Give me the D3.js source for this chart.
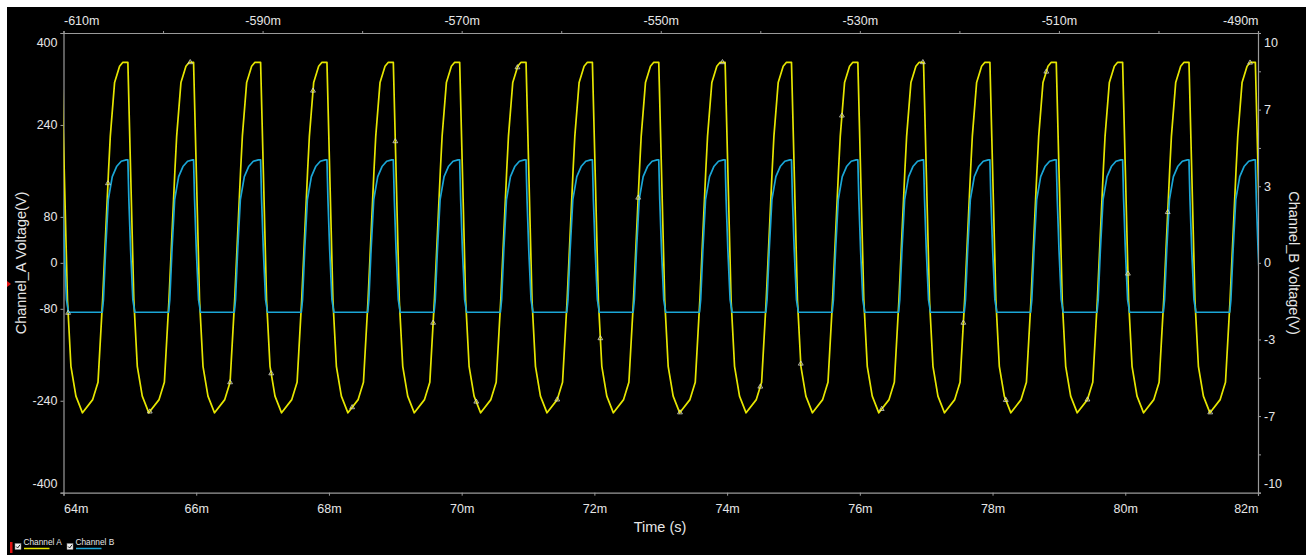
<!DOCTYPE html>
<html>
<head>
<meta charset="utf-8">
<script src="https://cdn.jsdelivr.net/npm/d3@7"></script>
<style>
  html, body { margin: 0; padding: 0; background: #ffffff; }
  svg { display: block; }
  text { font-family: "Liberation Sans", Arial, sans-serif; }
</style>
</head>
<body>
<script>
// ---------------- DATA ----------------
// time axis (ms)
const timeDomain = [64, 82];
const bottomTicks = [64, 66, 68, 70, 72, 74, 76, 78, 80, 82];
const bottomLabels = ["64m", "66m", "68m", "70m", "72m", "74m", "76m", "78m", "80m", "82m"];
const topDomain = [-610, -490];
const topTicks = [-610, -600, -590, -580, -570, -560, -550, -540, -530, -520, -510, -500, -490];
const topLabels = ["-610m", "", "-590m", "", "-570m", "", "-550m", "", "-530m", "", "-510m", "", "-490m"];
// left axis (Channel_A)
const leftDomain = [-400, 400];
const leftTicks = [400, 240, 80, 0, -80, -240, -400];
const leftLabels = ["400", "240", "80", "0", "-80", "-240", "-400"];
// right axis (Channel_B)
const rightDomain = [-10, 10];
const rightTicks = [10, 6.667, 3.333, 0, -3.333, -6.667, -10];
const rightLabels = ["10", "7", "3", "0", "-3", "-7", "-10"];
const rightMinorTicks = [8.333, 5, -5, -8.333];

// times (ms) at which each cycle's peak ends and the fall begins
const dropTimes = [63.97, 64.97, 65.96, 66.97, 67.97, 68.97, 69.97, 70.97, 71.97, 72.97,
                   73.97, 74.97, 75.97, 76.96, 77.96, 78.96, 79.96, 80.96, 81.96];
// Channel A: one cycle (offset ms after drop start, volts)
const cycleA_dt = [0.000, 0.041, 0.090, 0.142, 0.217, 0.316, 0.470, 0.550, 0.619, 0.709, 0.735, 0.800, 0.875, 0.925];
const cycleA_v  = [349,   161,   -65,   -180,  -232,  -261,  -238,  -208,  -65,   161,   220,   314,   342,   349];
// Channel B: one cycle (offset ms after drop start, volts)
const cycleB_dt = [0.000, 0.015, 0.041, 0.075, 0.105, 0.614, 0.632, 0.665, 0.705, 0.765, 0.830, 0.900, 0.975];
const cycleB_v  = [4.48,  2.75,  0.57,  -1.60, -2.15, -2.15, -1.60, 0.57,  2.75,  3.75,  4.19,  4.42,  4.48];
// sample markers drawn on Channel A (ms)
const markerTimes = [64.07, 64.67, 65.30, 65.91, 66.51, 67.13, 67.76, 68.35, 69.00, 69.57, 70.22,
                     70.84, 71.44, 72.09, 72.66, 73.29, 73.93, 74.50, 75.11, 75.73, 76.33, 76.95,
                     77.56, 78.20, 78.81, 79.43, 80.04, 80.64, 81.28, 81.88];
const seriesNames = ["Channel A", "Channel B"];
const seriesColors = ["#e6e600", "#1aa6d6"];

// ---------------- LAYOUT ----------------
const W = 1306, H = 555;
const plot = { left: 63.5, right: 1258, top: 33, bottom: 492.7 };
const axisColor = "#9a9a9a";
const textColor = "#e6e6e6";

const svg = d3.select("body").append("svg").attr("width", W).attr("height", H);
svg.append("rect").attr("x", 0).attr("y", 0).attr("width", W).attr("height", H).attr("fill", "#ffffff");
svg.append("rect").attr("x", 7).attr("y", 7).attr("width", W - 7).attr("height", H - 7).attr("fill", "#000000");

const x = d3.scaleLinear().domain(timeDomain).range([plot.left, plot.right]);
const xTop = d3.scaleLinear().domain(topDomain).range([plot.left, plot.right]);
const yA = d3.scaleLinear().domain(leftDomain).range([plot.bottom, plot.top]);
const yB = d3.scaleLinear().domain(rightDomain).range([plot.bottom, plot.top]);

// build series from cycle tables
function buildSeries(dts, vs) {
  const pts = [];
  dropTimes.forEach(d => dts.forEach((dt, i) => pts.push([d + dt, vs[i]])));
  return pts;
}
const seriesA = buildSeries(cycleA_dt, cycleA_v);
const seriesB = buildSeries(cycleB_dt, cycleB_v);

// clip
svg.append("clipPath").attr("id", "clip").append("rect")
  .attr("x", plot.left).attr("y", plot.top - 2)
  .attr("width", plot.right - plot.left).attr("height", plot.bottom - plot.top + 4);

// axes
function styleAxis(g) {
  g.selectAll("path").attr("stroke", axisColor).attr("stroke-width", 1.2);
  g.selectAll("line").attr("stroke", axisColor);
  g.selectAll("text").attr("fill", textColor).style("font-size", "12.5px")
    .style("font-family", "'Liberation Sans', Arial, sans-serif");
}

const gBottom = svg.append("g").attr("transform", `translate(0,${plot.bottom})`)
  .call(d3.axisBottom(x).tickValues(bottomTicks)
    .tickFormat((d, i) => bottomLabels[i]).tickSizeOuter(0).tickSize(3).tickPadding(8));
styleAxis(gBottom);
gBottom.selectAll(".tick text").attr("text-anchor", (d, i) => i === 0 ? "start" : (i === bottomTicks.length - 1 ? "end" : "middle"));

const gTop = svg.append("g").attr("transform", `translate(0,${plot.top})`)
  .call(d3.axisTop(xTop).tickValues(topTicks)
    .tickFormat((d, i) => topLabels[i]).tickSizeOuter(0).tickSize(2).tickPadding(6));
styleAxis(gTop);
gTop.selectAll(".tick text").attr("text-anchor", (d, i) => i === 0 ? "start" : (i === topTicks.length - 1 ? "end" : "middle"));

const gLeft = svg.append("g").attr("transform", `translate(${plot.left},0)`)
  .call(d3.axisLeft(yA).tickValues(leftTicks)
    .tickFormat((d, i) => leftLabels[i]).tickSizeOuter(0).tickSize(3).tickPadding(3));
styleAxis(gLeft);
gLeft.selectAll(".tick text").attr("y", (d, i) => i === 0 ? 9 : (i === leftTicks.length - 1 ? -9 : 0));

const gRight = svg.append("g").attr("transform", `translate(${plot.right},0)`)
  .call(d3.axisRight(yB).tickValues(rightTicks)
    .tickFormat((d, i) => rightLabels[i]).tickSizeOuter(0).tickSize(3).tickPadding(3));
styleAxis(gRight);
gRight.selectAll(".tick text").attr("y", (d, i) => i === 0 ? 9 : (i === rightTicks.length - 1 ? -9 : 0));
const gRightMinor = svg.append("g").attr("transform", `translate(${plot.right},0)`)
  .call(d3.axisRight(yB).tickValues(rightMinorTicks).tickFormat("").tickSizeOuter(0).tickSize(3));
styleAxis(gRightMinor);
gRightMinor.select("path").remove();

// axis titles
svg.append("text").attr("x", 660).attr("y", 532).attr("text-anchor", "middle")
  .attr("fill", textColor).style("font-size", "14.5px").text("Time (s)");
svg.append("text").attr("transform", "translate(26,263) rotate(-90)").attr("text-anchor", "middle")
  .attr("fill", textColor).style("font-size", "14.5px").text("Channel_A Voltage(V)");
svg.append("text").attr("transform", "translate(1289,263) rotate(90)").attr("text-anchor", "middle")
  .attr("fill", textColor).style("font-size", "14.5px").text("Channel_B Voltage(V)");

// lines
const plotG = svg.append("g").attr("clip-path", "url(#clip)");
plotG.append("path").datum(seriesA)
  .attr("fill", "none").attr("stroke", seriesColors[0]).attr("stroke-width", 1.7)
  .attr("stroke-linejoin", "round")
  .attr("d", d3.line().x(d => x(d[0])).y(d => yA(d[1])));
plotG.append("path").datum(seriesB)
  .attr("fill", "none").attr("stroke", seriesColors[1]).attr("stroke-width", 1.7)
  .attr("stroke-linejoin", "round")
  .attr("d", d3.line().x(d => x(d[0])).y(d => yB(d[1])));

// markers on channel A
const bis = d3.bisector(d => d[0]).left;
function valueAt(series, t) {
  const i = Math.max(1, Math.min(series.length - 1, bis(series, t)));
  const a = series[i - 1], b = series[i];
  const f = (t - a[0]) / (b[0] - a[0]);
  return a[1] + f * (b[1] - a[1]);
}
plotG.selectAll("path.mk").data(markerTimes).join("path").attr("class", "mk")
  .attr("transform", t => `translate(${x(t)},${yA(valueAt(seriesA, t))})`)
  .attr("d", d3.symbol(d3.symbolTriangle, 10))
  .attr("fill", "none").attr("stroke", "#d8d8c8").attr("stroke-width", 0.8);

// small red markers on left edge
svg.append("path").attr("d", "M7,281 L11,284 L7,287 Z").attr("fill", "#e01010");
svg.append("rect").attr("x", 10).attr("y", 542).attr("width", 2.5).attr("height", 11).attr("fill", "#e01010");

// legend
const legX = [15, 67];
seriesNames.forEach((name, i) => {
  const g = svg.append("g").attr("transform", `translate(${legX[i]},0)`);
  g.append("rect").attr("x", 0).attr("y", 543.5).attr("width", 6).attr("height", 6)
    .attr("fill", "#f0f0f0").attr("stroke", "#808080").attr("stroke-width", 0.5);
  g.append("path").attr("d", "M1.2,546.5 L2.6,548 L5,544.8").attr("fill", "none")
    .attr("stroke", "#222").attr("stroke-width", 1);
  g.append("text").attr("x", 8.5).attr("y", 544.5).attr("fill", textColor)
    .style("font-size", "8.3px").text(name);
  g.append("line").attr("x1", 9).attr("x2", 34.5).attr("y1", 548.5).attr("y2", 548.5)
    .attr("stroke", seriesColors[i]).attr("stroke-width", 1.5);
});
</script>
</body>
</html>
